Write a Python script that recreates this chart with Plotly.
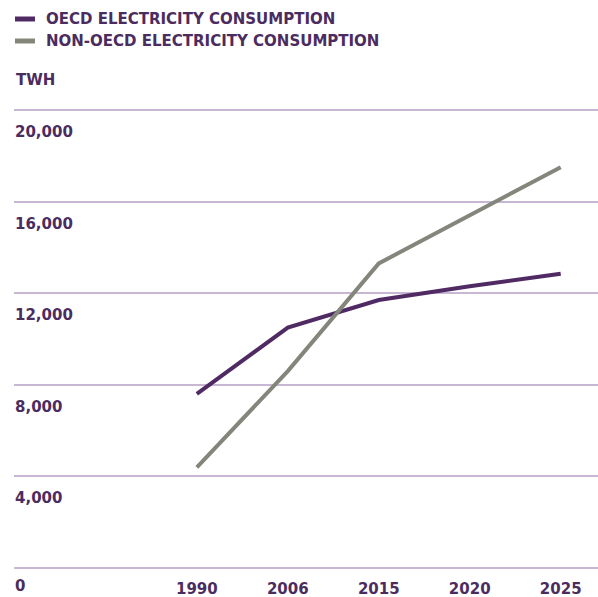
import plotly.graph_objects as go

years = ["1990", "2006", "2015", "2020", "2025"]
oecd = [7600, 10500, 11700, 12300, 12850]
non_oecd = [4400, 8600, 13300, 15400, 17500]
y_ticks = [0, 4000, 8000, 12000, 16000, 20000]
y_tick_labels = ["0", "4,000", "8,000", "12,000", "16,000", "20,000"]
series_names = ["OECD ELECTRICITY CONSUMPTION", "NON-OECD ELECTRICITY CONSUMPTION"]

TEXT = "#4b2c5f"
PURPLE = "#4f2a63"
GRAY = "#84867b"
GRID = "#c8b7d2"
FONT = dict(family="DejaVu Sans", size=15, color=TEXT, weight=700)

W, Hfig = 598, 597
L, R, T, B = 14, 0, 103, 22
PH = Hfig - T - B
PW = W - L - R

def py(p):
    return (Hfig - B - p) / PH

def px(p):
    return (p - L) / PW

fig = go.Figure()
fig.add_trace(go.Scatter(x=years, y=oecd, mode="lines", line=dict(color=PURPLE, width=4),
                         name=series_names[0], showlegend=False))
fig.add_trace(go.Scatter(x=years, y=non_oecd, mode="lines", line=dict(color=GRAY, width=4),
                         name=series_names[1], showlegend=False))

annotations = []
for v, t in zip(y_ticks, y_tick_labels):
    annotations.append(dict(x=0, xref="paper", y=v, yref="y", text=t, showarrow=False,
                            xanchor="left", yanchor="middle", borderpad=0,
                            yshift=-18 if v == 0 else -22, font=FONT))

# legend
shapes = []
for i, (name, col) in enumerate(zip(series_names, [PURPLE, GRAY])):
    yp = py(19 + 22 * i)
    shapes.append(dict(type="line", xref="paper", yref="paper", x0=px(15), x1=px(35),
                       y0=yp, y1=yp, line=dict(color=col, width=5)))
    annotations.append(dict(x=px(44), xref="paper", y=yp, yref="paper", text=name,
                            showarrow=False, xanchor="left", yanchor="middle", font=FONT))
annotations.append(dict(x=0, xref="paper", y=py(80), yref="paper", text="TWH",
                        showarrow=False, xanchor="left", yanchor="middle", font=FONT))

fig.update_layout(
    width=W, height=Hfig,
    margin=dict(l=L, r=R, t=T, b=B),
    paper_bgcolor="white", plot_bgcolor="white",
    showlegend=False,
    xaxis=dict(type="category", range=[-2.01, 4.41], showgrid=False, zeroline=False,
               showline=False, ticks="", tickfont=FONT, ticklabelstandoff=3),
    yaxis=dict(range=[-300, 20300], tickvals=y_ticks, showticklabels=False,
               showgrid=True, gridcolor=GRID, gridwidth=1.5, zeroline=False, showline=False),
    annotations=annotations,
    shapes=shapes,
)
fig.write_html("out.html")
